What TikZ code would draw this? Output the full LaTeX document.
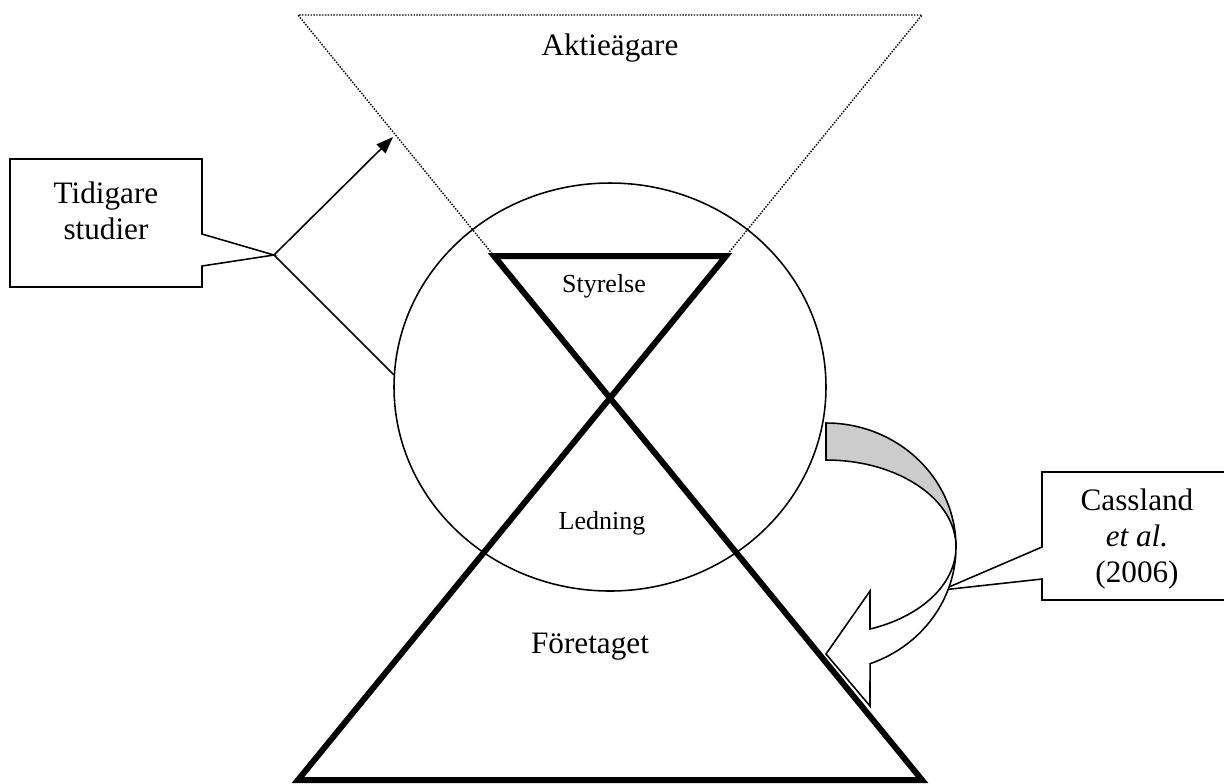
\documentclass[tikz,border=0pt]{standalone}
\usepackage{fontspec}
\setmainfont{Liberation Serif}
\usetikzlibrary{arrows.meta}
\tikzstyle{bigtext} = [font=\fontsize{12}{13.8}\selectfont, inner sep=0pt, align=center]
\tikzstyle{smalltext} = [font=\fontsize{10}{12}\selectfont, inner sep=0pt]
\tikzstyle{owner} = [draw=black, line width=0.55pt, dash pattern=on 0.55pt off 0.55pt]
\tikzstyle{hourglass} = [draw=black, line width=2.3pt]
\tikzstyle{callout} = [draw=black, fill=white, line width=0.6pt]
\tikzstyle{connector} = [draw=black, line width=0.6pt]
\tikzstyle{backface} = [draw=black, fill=black!20, line width=0.6pt]
\tikzstyle{frontface} = [draw=black, fill=white, line width=0.6pt]

\begin{document}
\begin{tikzpicture}[x=0.3846pt, y=-0.3846pt]
                \useasboundingbox (0,0) rectangle (1224,783);

                % aktieagare, dotted
                \draw[owner] (494,256) -- (298,15) -- (922,15) -- (726,256);
                \node[bigtext] (aktie) at (610,48) {Aktieägare};

                % circle round styrelse and ledning
                \draw[connector] (610,387) ellipse [x radius=216, y radius=204];

                % styrelse on top of foretaget
                \draw[hourglass] (494,256) -- (922,780) -- (298,780) -- (726,256) -- cycle;
                \node[smalltext] (styr) at (604,286) {Styrelse};
                \node[smalltext] (led) at (602,523) {Ledning};
                \node[bigtext] (foretag) at (590,647) {Företaget};

                % left callout
                \coordinate (tidtip) at (274,255);
                \coordinate (aktedge) at (393,137);
                \coordinate (ringedge) at (394,375);
                \draw[callout] (10,159) -- (202,159) -- (202,234) -- (tidtip) -- (202,266) -- (202,287) -- (10,287) -- cycle;
                \node[bigtext] (tid) at (106,211) {Tidigare\\studier};
                \draw[connector, -{Triangle[length=6.5pt, width=4.8pt]}] (tidtip) -- (aktedge);
                \draw[connector] (tidtip) -- (ringedge);

                % right callout
                \coordinate (castip) at (942,590);
                \draw[callout] (1232,472) -- (1042,472) -- (1042,547) -- (castip) -- (1042,579) -- (1042,600) -- (1232,600) -- cycle;
                \node[bigtext] (cass) at (1137,539) {Cassland\\\textit{et al.}\\(2006)};

                % curved arrow
                \draw[backface] (826,423) arc[start angle=270, end angle=360, x radius=130, y radius=124]
                    arc[start angle=0, end angle=-90, x radius=130, y radius=87] -- cycle;
                \draw[frontface] (956,547) arc[start angle=0, end angle=70.2, x radius=130, y radius=124]
                    -- (870,706) -- (826,654) -- (870,591) -- (870,629)
                    arc[start angle=70.2, end angle=0, x radius=130, y radius=87] -- cycle;
            \end{tikzpicture}
\end{document}
